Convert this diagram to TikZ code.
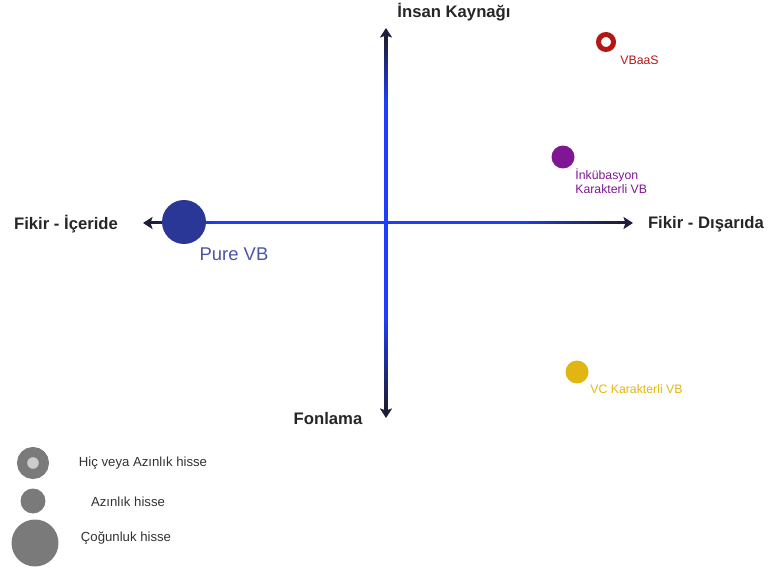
\documentclass[tikz,border=0pt]{standalone}
\usepackage{fontspec}
\setmainfont{Liberation Sans}
\usetikzlibrary{calc}
\usetikzlibrary{arrows.meta}

\definecolor{axisdark}{RGB}{30,30,58}
\definecolor{axisblue}{RGB}{30,62,250}
\definecolor{purecol}{RGB}{42,55,150}
\definecolor{vbaascol}{RGB}{180,22,22}
\definecolor{inkcol}{RGB}{128,22,150}
\definecolor{vccol}{RGB}{226,182,18}
\definecolor{legendgray}{RGB}{122,122,122}

\begin{document}
\begin{tikzpicture}[x=0.02cm,y=-0.02cm,
    axislabel/.style={font=\fontsize{9.5}{11}\selectfont\bfseries, text=black!85, inner sep=0pt},
    axisarrow/.style={-{Stealth[length=0.19cm,width=0.24cm,inset=0.04cm]}, axisdark},
    hline/.style={line width=0.06cm},
    vline/.style={line width=0.07cm},
    bubble/.style={circle, inner sep=0pt},
    tag/.style={font=\fontsize{7}{8.5}\selectfont, inner sep=0pt},
    legendtext/.style={font=\fontsize{7.5}{9}\selectfont, text=black!80, inner sep=0pt}]
  \useasboundingbox (0,0) rectangle (781,574);

  \coordinate (o) at (386,223);
  \coordinate (w) at (143,223);
  \coordinate (e) at (633,223);
  \coordinate (n) at (386,28);
  \coordinate (s) at (386,418);

  % arrows, heads stay dark
  \draw [axisarrow, hline] (o) -- (w);
  \draw [axisarrow, hline] (o) -- (e);
  \draw [axisarrow, vline] (o) -- (n);
  \draw [axisarrow, vline] (o) -- (s);

  % blue middle of the shafts
  \draw [hline, axisblue] (214,223) -- (521,223);
  \draw [vline, axisblue] (386,99) -- (386,321);

  % fading to dark towards the heads
  \foreach \k [evaluate=\k as \pct using int(5*\k)] in {0,...,19} {
    \draw [hline, axisblue!\pct!axisdark] (155+3*\k,223) -- (158.6+3*\k,223);
    \draw [hline, axisblue!\pct!axisdark] (621-5*\k,223) -- (615.4-5*\k,223);
    \draw [vline, axisblue!\pct!axisdark] (386,40+3*\k) -- (386,43.6+3*\k);
    \draw [vline, axisblue!\pct!axisdark] (386,406-4.3*\k) -- (386,401.1-4.3*\k);
  }

  \node [axislabel] (hr) at (454,12) {İnsan Kaynağı};
  \node [axislabel] (fund) at (328,419) {Fonlama};
  \node [axislabel] (inside) at (66,224) {Fikir - İçeride};
  \node [axislabel] (outside) at (706,224) {Fikir - Dışarıda};

  \node [bubble, fill=purecol, minimum size=0.88cm] (pure) at (184,222) {};
  \node [font=\fontsize{10.5}{12}\selectfont, text=purecol!85, inner sep=0pt] (purelbl) at (234,254) {Pure VB};

  \node [bubble, draw=vbaascol, line width=0.1cm, minimum size=0.3cm] (vbaas) at (606,42) {};
  \node [tag, text=vbaascol, anchor=west] (vbaaslbl) at (620,60) {VBaaS};

  \node [bubble, fill=inkcol, minimum size=0.46cm] (ink) at (563,157) {};
  \node [tag, text=inkcol, anchor=north west, align=left] (inklbl) at (575,168) {İnkübasyon\\Karakterli VB};

  \node [bubble, fill=vccol, minimum size=0.46cm] (vc) at (577,372) {};
  \node [tag, text=vccol, anchor=west] (vclbl) at (590,389) {VC Karakterli VB};

  \node [bubble, draw=legendgray, fill=black!20, line width=0.2cm, minimum size=0.44cm] (none) at (33,463) {};
  \node [legendtext] (nonelbl) at (143,463) {Hiç veya Azınlık hisse};
  \node [bubble, fill=legendgray, minimum size=0.5cm] (minor) at (33,501) {};
  \node [legendtext] (minorlbl) at (128,502) {Azınlık hisse};
  \node [bubble, fill=legendgray, minimum size=0.94cm] (major) at (35,543) {};
  \node [legendtext] (majorlbl) at (126,538) {Çoğunluk hisse};
\end{tikzpicture}
\end{document}
